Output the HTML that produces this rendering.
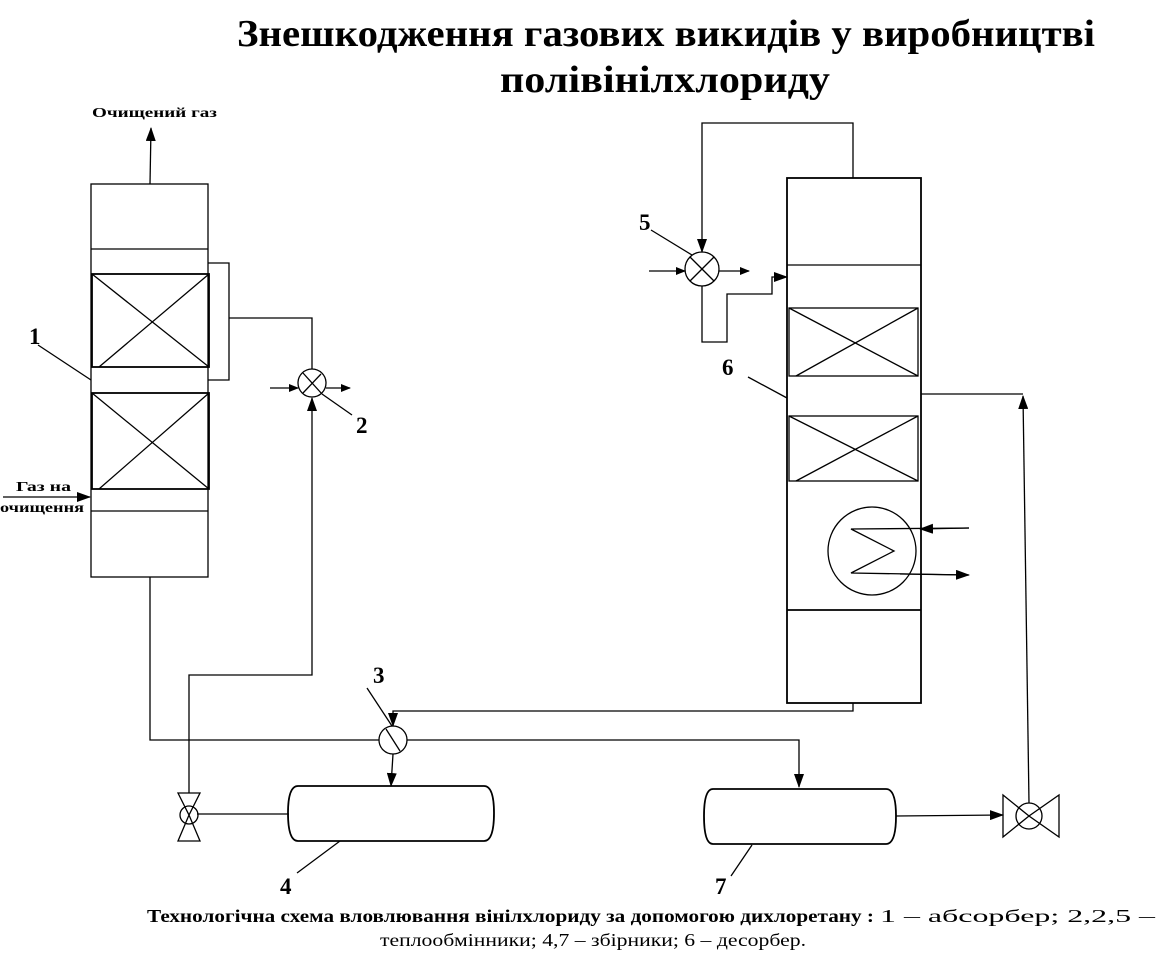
<!DOCTYPE html>
<html><head><meta charset="utf-8"><style>
html,body{margin:0;padding:0;background:#fff;}
svg{display:block;font-family:"Liberation Serif","DejaVu Serif",serif;}
</style></head><body>
<svg width="1157" height="962" viewBox="0 0 1157 962" xmlns="http://www.w3.org/2000/svg">
<defs>
<marker id="a" markerWidth="10" markerHeight="8" refX="9" refY="4" orient="auto" markerUnits="userSpaceOnUse">
<path d="M0,0 L10,4 L0,8 Z" fill="#000"/></marker>
<marker id="b" markerWidth="14" markerHeight="10" refX="13" refY="5" orient="auto" markerUnits="userSpaceOnUse">
<path d="M0,0 L14,5 L0,10 Z" fill="#000"/></marker>
</defs>
<g fill="#000" font-weight="bold">
<text x="237" y="46" font-size="38" textLength="858" lengthAdjust="spacingAndGlyphs">Знешкодження газових викидів у виробництві</text>
<text x="500" y="92" font-size="38" textLength="330" lengthAdjust="spacingAndGlyphs">полівінілхлориду</text>
<text x="92" y="117" font-size="14" textLength="125" lengthAdjust="spacingAndGlyphs">Очищений газ</text>
<text x="16" y="491" font-size="14" textLength="55" lengthAdjust="spacingAndGlyphs">Газ на</text>
<text x="0" y="512" font-size="14" textLength="84" lengthAdjust="spacingAndGlyphs">очищення</text>
<text x="29" y="344" font-size="23">1</text>
<text x="356" y="433" font-size="23">2</text>
<text x="373" y="683" font-size="23">3</text>
<text x="280" y="894" font-size="23">4</text>
<text x="639" y="230" font-size="23">5</text>
<text x="722" y="375" font-size="23">6</text>
<text x="715" y="894" font-size="23">7</text>
<text x="147" y="922" font-size="17.5" textLength="727" lengthAdjust="spacingAndGlyphs">Технологічна схема вловлювання вінілхлориду за допомогою дихлоретану :</text>
</g>
<text x="880" y="922" font-size="17.5" textLength="275" lengthAdjust="spacingAndGlyphs">1 – абсорбер;  2,2,5 –</text>
<text x="380" y="946" font-size="17.5" textLength="426" lengthAdjust="spacingAndGlyphs">теплообмінники; 4,7 – збірники; 6 – десорбер.</text>

<g stroke="#000" stroke-width="1.3" fill="none">
<rect x="91" y="184" width="117" height="393"/>
<line x1="91" y1="249" x2="208" y2="249"/>
<line x1="91" y1="511" x2="208" y2="511"/>
<rect x="92" y="274" width="117" height="93" stroke-width="1.8"/>
<line x1="92" y1="274" x2="209" y2="367"/><line x1="99" y1="367" x2="209" y2="274"/>
<rect x="92" y="393" width="117" height="96" stroke-width="1.8"/>
<line x1="92" y1="393" x2="209" y2="489"/><line x1="99" y1="489" x2="209" y2="393"/>
<line x1="150" y1="184" x2="151" y2="128" marker-end="url(#b)"/>
<line x1="3" y1="497" x2="90" y2="497" marker-end="url(#b)"/>
<polyline points="208,263 229,263 229,380 208,380"/>
<polyline points="229,318 312,318 312,369"/>
<line x1="38" y1="345" x2="91" y2="380"/>
<circle cx="312" cy="383" r="14"/>
<line x1="303" y1="373" x2="322" y2="394"/><line x1="303" y1="393" x2="321" y2="374"/>
<line x1="270" y1="388" x2="298" y2="388" marker-end="url(#a)"/>
<line x1="326" y1="388" x2="350" y2="388" marker-end="url(#a)"/>
<line x1="322" y1="394" x2="352" y2="415"/>
<polyline points="189,793 189,675 312,675 312,398" marker-end="url(#b)"/>
<polyline points="150,577 150,740 379,740"/>
<polyline points="407,740 799,740 799,787" marker-end="url(#b)"/>
<circle cx="393" cy="740" r="14"/>
<line x1="386" y1="729" x2="400" y2="751"/>
<line x1="367" y1="688" x2="392" y2="726"/>
<line x1="393" y1="754" x2="391" y2="786" marker-end="url(#b)"/>
<polyline points="853,703 853,711 393,711 393,726" marker-end="url(#b)"/>
<path d="M178,793 L200,793 L189,815 Z M178,841 L200,841 L189,815 Z"/>
<circle cx="189" cy="815" r="9"/>
<line x1="197" y1="814" x2="289" y2="814"/>
<path d="M298,786 L484,786 Q494,786 494,813 Q494,841 484,841 L298,841 Q288,841 288,813 Q288,786 298,786 Z" stroke-width="1.8"/>
<line x1="340" y1="841" x2="297" y2="873"/>
<path d="M713,789 L886,789 Q896,789 896,816 Q896,844 886,844 L713,844 Q704,844 704,816 Q704,789 713,789 Z" stroke-width="1.8"/>
<line x1="752" y1="845" x2="731" y2="876"/>
<line x1="896" y1="816" x2="1003" y2="815" marker-end="url(#b)"/>
<path d="M1003,795 L1003,837 L1029,816 Z M1059,795 L1059,837 L1029,816 Z"/>
<circle cx="1029" cy="816" r="13"/>
<line x1="1029" y1="803" x2="1023" y2="396" marker-end="url(#b)"/>
<line x1="921" y1="394" x2="1023" y2="394"/>
<rect x="787" y="178" width="134" height="525" stroke-width="1.8"/>
<line x1="787" y1="265" x2="921" y2="265"/>
<line x1="787" y1="610" x2="921" y2="610" stroke-width="1.8"/>
<rect x="789" y="308" width="129" height="68"/>
<line x1="789" y1="308" x2="918" y2="376"/><line x1="796" y1="376" x2="918" y2="308"/>
<rect x="789" y="416" width="129" height="65"/>
<line x1="789" y1="416" x2="918" y2="481"/><line x1="796" y1="481" x2="918" y2="416"/>
<circle cx="872" cy="551" r="44"/>
<polyline points="969,528 851,529 894,551 851,573 968,575"/>
<line x1="969" y1="528" x2="920" y2="529" marker-end="url(#b)"/>
<line x1="900" y1="574" x2="969" y2="575" marker-end="url(#b)"/>
<line x1="748" y1="377" x2="787" y2="398"/>
<polyline points="853,178 853,123 702,123 702,252" marker-end="url(#b)"/>
<circle cx="702" cy="269" r="17"/>
<line x1="690" y1="257" x2="714" y2="281"/><line x1="690" y1="281" x2="714" y2="257"/>
<line x1="651" y1="230" x2="692" y2="255"/>
<line x1="649" y1="271" x2="685" y2="271" marker-end="url(#a)"/>
<line x1="719" y1="271" x2="749" y2="271" marker-end="url(#a)"/>
<polyline points="702,286 702,342 727,342 727,294 772,294 772,277 787,277" marker-end="url(#b)"/>
</g>
</svg>
</body></html>
